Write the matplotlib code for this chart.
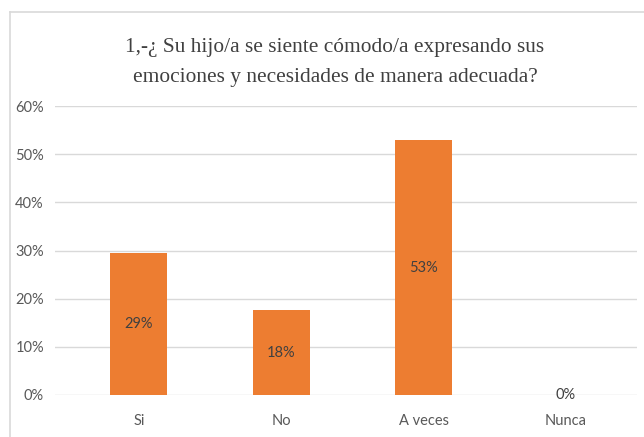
import matplotlib
matplotlib.use("Agg")
import matplotlib.pyplot as plt
from matplotlib.ticker import PercentFormatter

categories = ["Si", "No", "A veces", "Nunca"]
values = [29.4, 17.6, 52.9, 0.0]
labels = ["29%", "18%", "53%", "0%"]
yticks = [0, 10, 20, 30, 40, 50, 60]
title_lines = ["1,-¿ Su hijo/a se siente cómodo/a expresando sus",
               "emociones y necesidades de manera adecuada?"]

W, H = 644, 437
fig = plt.figure(figsize=(W / 100, H / 100), dpi=100)
fig.patch.set_facecolor("white")

# outer frame (top and left edges visible)
fig.add_artist(plt.Line2D([10 / W, 1.0], [1 - 12 / H, 1 - 12 / H], transform=fig.transFigure,
                          color="#D9D9D9", lw=1.2))
fig.add_artist(plt.Line2D([10 / W, 10 / W], [0, 1 - 12 / H], transform=fig.transFigure,
                          color="#D9D9D9", lw=1.2))

ax = fig.add_axes([55 / W, 42 / H, 582 / W, 289 / H])
x = list(range(len(categories)))
ax.bar(x, values, width=0.40, color="#ED7D31", zorder=3)
ax.set_xlim(-0.59, len(categories) - 0.5)
ax.set_ylim(0, 60)
ax.set_yticks(yticks)
ax.yaxis.set_major_formatter(PercentFormatter(decimals=0))
ax.grid(axis="y", color="#D9D9D9", lw=1, zorder=0)
for s in ax.spines.values():
    s.set_visible(False)
ax.tick_params(axis="both", length=0, colors="#595959", labelsize=10.5)
ax.tick_params(axis="y", pad=8)
ax.tick_params(axis="x", pad=14)
ax.set_xticks(x)
ax.set_xticklabels(categories)
for lbl in ax.get_xticklabels() + ax.get_yticklabels():
    lbl.set_fontfamily("Lato")

for xi, v, t in zip(x, values, labels):
    ax.text(xi, v / 2, t, ha="center", va="center",
            fontsize=10.5, color="#404040", family="Lato", zorder=4)

for line, base in zip(title_lines, [52, 82]):
    fig.text(0.52, 1 - base / H, line, ha="center", va="baseline", fontsize=15.4,
             family="Liberation Serif", color="#404040")

fig.savefig("out.png", dpi=100)
